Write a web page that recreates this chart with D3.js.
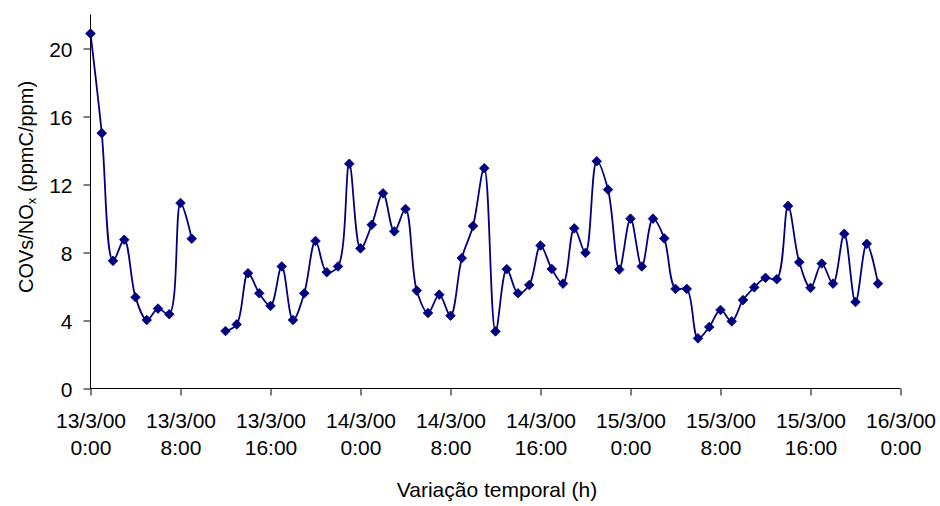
<!DOCTYPE html>
<html>
<head>
<meta charset="utf-8">
<script src="https://cdn.jsdelivr.net/npm/d3@7"></script>
<style>
  html, body { margin: 0; padding: 0; background: #fff; }
  svg text { font-family: "Liberation Sans", Arial, sans-serif; fill: #000; }
</style>
</head>
<body>
<svg id="chart" width="940" height="506"></svg>
<script>
// Hourly COVs/NOx ratio, 13/3/00 0:00 onward (hours 10 and 11 missing)
const hours = [
  0, 1, 2, 3, 4, 5, 6, 7, 8, 9, 10, 11,
  12, 13, 14, 15, 16, 17, 18, 19, 20, 21, 22, 23,
  24, 25, 26, 27, 28, 29, 30, 31, 32, 33, 34, 35,
  36, 37, 38, 39, 40, 41, 42, 43, 44, 45, 46, 47,
  48, 49, 50, 51, 52, 53, 54, 55, 56, 57, 58, 59,
  60, 61, 62, 63, 64, 65, 66, 67, 68, 69, 70
];
const ratio = [
  20.88, 15.02, 7.51, 8.75, 5.37, 4.03, 4.70, 4.37, 10.91, 8.81, null, null,
  3.38, 3.77, 6.78, 5.60, 4.86, 7.18, 4.03, 5.60, 8.68, 6.84, 7.18, 13.22,
  8.24, 9.63, 11.48, 9.24, 10.56, 5.76, 4.44, 5.52, 4.28, 7.67, 9.56, 12.96,
  3.36, 7.02, 5.60, 6.09, 8.41, 7.03, 6.17, 9.42, 7.98, 13.37, 11.70, 7.00,
  9.99, 7.18, 9.99, 8.83, 5.86, 5.86, 2.95, 3.62, 4.62, 3.95, 5.20, 5.95,
  6.51, 6.43, 10.74, 7.43, 5.92, 7.35, 6.17, 9.10, 5.09, 8.51, 6.17
];
const xTickHours = [0, 8, 16, 24, 32, 40, 48, 56, 64, 72];
const xTickDates = ["13/3/00", "13/3/00", "13/3/00", "14/3/00", "14/3/00", "14/3/00", "15/3/00", "15/3/00", "15/3/00", "16/3/00"];
const xTickTimes = ["0:00", "8:00", "16:00", "0:00", "8:00", "16:00", "0:00", "8:00", "16:00", "0:00"];
const yTicks = [0, 4, 8, 12, 16, 20];

const points = hours.map((h, i) => ({ h, v: ratio[i] }));

const svg = d3.select("#chart");
const lineColor = "#000080";

const x = d3.scaleLinear().domain([0, 72]).range([90.5, 900.5]);
const y = d3.scaleLinear().domain([0, 22]).range([388.5, 14.5]);

// Y axis
const yAxis = svg.append("g")
  .attr("transform", `translate(${x(0)},0)`)
  .call(d3.axisLeft(y).tickValues(yTicks).tickSize(7).tickPadding(11).tickFormat(d3.format("d")));
yAxis.select(".domain").attr("d", `M0,${y(22)}V${y(0)}`).attr("stroke", "#000");
yAxis.selectAll(".tick line").attr("stroke", "#000");
yAxis.selectAll(".tick text").attr("font-size", 21).attr("dy", "0.36em")
  .attr("font-family", "Liberation Sans, Arial, sans-serif");

// X axis
const xAxis = svg.append("g")
  .attr("transform", `translate(0,${y(0)})`)
  .call(d3.axisBottom(x).tickValues(xTickHours).tickSize(7).tickFormat(() => ""));
xAxis.select(".domain").attr("d", `M${x(0)},0H${x(72)}`).attr("stroke", "#000");
xAxis.selectAll(".tick line").attr("stroke", "#000");
xAxis.selectAll(".tick text").remove();
xAxis.selectAll(".tick").each(function (d, i) {
  const t = d3.select(this).append("text")
    .attr("text-anchor", "middle")
    .attr("font-size", 21)
    .attr("font-family", "Liberation Sans, Arial, sans-serif");
  t.append("tspan").attr("x", 0).attr("y", 39).text(xTickDates[i]);
  t.append("tspan").attr("x", 0).attr("y", 66.5).text(xTickTimes[i]);
});

// Axis titles
svg.append("text")
  .attr("x", 497).attr("y", 496.5)
  .attr("text-anchor", "middle")
  .attr("font-size", 21)
  .text("Variação temporal (h)");

const yTitle = svg.append("text")
  .attr("transform", "translate(32.5,187) rotate(-90)")
  .attr("text-anchor", "middle")
  .attr("font-size", 20);
yTitle.append("tspan").text("COVs/NO");
yTitle.append("tspan").attr("font-size", 13).attr("dy", 3).text("x");
yTitle.append("tspan").attr("dy", -3).text(" (ppmC/ppm)");

// Smoothed series line, broken where data is missing
const line = d3.line()
  .defined(d => d.v !== null)
  .x(d => x(d.h))
  .y(d => y(d.v))
  .curve(d3.curveCatmullRom.alpha(0.5));

svg.append("path")
  .datum(points)
  .attr("fill", "none")
  .attr("stroke", lineColor)
  .attr("stroke-width", 1.8)
  .attr("d", line);

// Diamond markers
svg.append("g")
  .selectAll("path")
  .data(points.filter(d => d.v !== null))
  .join("path")
  .attr("d", d3.symbol(d3.symbolSquare, 46))
  .attr("transform", d => `translate(${x(d.h)},${y(d.v)}) rotate(45)`)
  .attr("fill", lineColor)
  .attr("stroke", lineColor)
  .attr("stroke-width", 0.8);
</script>
</body>
</html>
